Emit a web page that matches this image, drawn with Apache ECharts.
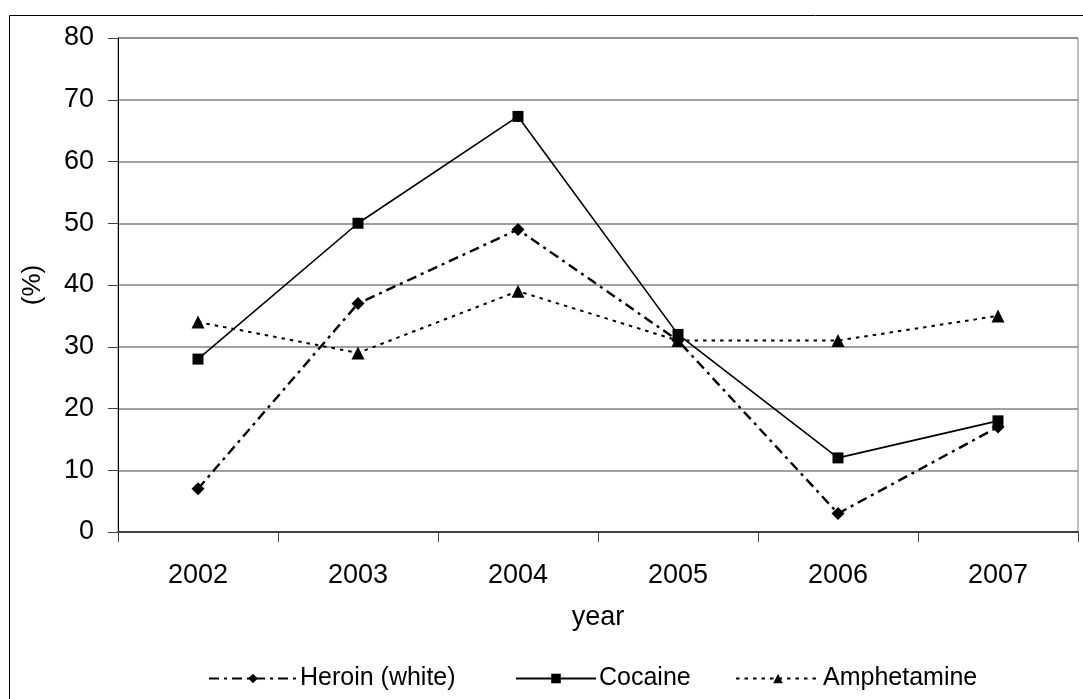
<!DOCTYPE html>
<html>
<head>
<meta charset="utf-8">
<style>
html,body{margin:0;padding:0;background:#fff;}
#chart{width:1083px;height:699px;}
</style>
<script src="https://cdn.jsdelivr.net/npm/echarts@6/dist/echarts.min.js"></script>
</head>
<body>
<div id="chart"></div>
<script>
const years = ['2002','2003','2004','2005','2006','2007'];
const heroin = [7, 37, 49, 31, 3, 17];
const cocaine = [28, 50, 67.3, 32, 12, 18];
const amphetamine = [34, 29, 39, 31, 31, 35];
const seriesNames = ['Heroin (white)', 'Cocaine', 'Amphetamine'];

const FONT = '"Liberation Sans", Arial, sans-serif';
const chart = echarts.init(document.getElementById('chart'), null, {renderer: 'canvas'});

function legendFor(name, left, w) {
  return {
    data: [name],
    left: left,
    top: 666,
    itemWidth: w,
    itemHeight: 12,
    itemGap: 0,
    padding: 0,
    textStyle: {fontFamily: FONT, fontSize: 25, color: '#000', padding: [0,0,0,-2]},
    selectedMode: false
  };
}

chart.setOption({
  animation: false,
  backgroundColor: '#fff',
  textStyle: {fontFamily: FONT},
  graphic: [{
    type: 'rect',
    shape: {x: 9.5, y: 15.5, width: 1120, height: 720},
    style: {fill: 'none', stroke: '#000', lineWidth: 1},
    silent: true, z: -1
  }],
  grid: {
    left: 118, right: 5, top: 38, bottom: 167,
    show: true, borderColor: '#808080', borderWidth: 1, backgroundColor: 'transparent'
  },
  legend: [
    legendFor(seriesNames[0], 208, 88),
    legendFor(seriesNames[1], 515, 80),
    legendFor(seriesNames[2], 735, 84)
  ],
  xAxis: {
    type: 'category',
    data: years,
    boundaryGap: true,
    name: 'year',
    nameLocation: 'middle',
    nameGap: 72,
    nameTextStyle: {fontFamily: FONT, fontSize: 27, color: '#000'},
    axisLine: {lineStyle: {color: '#404040', width: 2}},
    axisTick: {show: true, inside: false, length: 10, alignWithLabel: false, lineStyle: {color: '#404040', width: 1}},
    axisLabel: {fontFamily: FONT, fontSize: 27, color: '#000', margin: 30},
    splitLine: {show: false}
  },
  yAxis: {
    type: 'value',
    min: 0, max: 80, interval: 10,
    name: '(%)',
    nameLocation: 'middle',
    nameRotate: 90,
    nameGap: 72,
    nameTextStyle: {fontFamily: FONT, fontSize: 26, color: '#000'},
    axisLine: {show: true, lineStyle: {color: '#000', width: 1}},
    axisTick: {show: true, inside: false, length: 10, lineStyle: {color: '#404040', width: 1}},
    axisLabel: {fontFamily: FONT, fontSize: 27, color: '#000', margin: 24},
    splitLine: {show: true, lineStyle: {color: '#808080', width: 1.5}}
  },
  series: [
    {
      name: seriesNames[0], type: 'line', data: heroin,
      symbol: 'diamond', symbolSize: 13, showSymbol: true,
      itemStyle: {color: '#000'},
      lineStyle: {color: '#000', width: 2.4, type: [10, 5, 3, 5]},
      z: 3
    },
    {
      name: seriesNames[1], type: 'line', data: cocaine,
      symbol: 'rect', symbolSize: 11, showSymbol: true,
      itemStyle: {color: '#000'},
      lineStyle: {color: '#000', width: 1.6, type: 'solid'},
      z: 4
    },
    {
      name: seriesNames[2], type: 'line', data: amphetamine,
      symbol: 'triangle', symbolSize: 13, showSymbol: true,
      itemStyle: {color: '#000'},
      lineStyle: {color: '#000', width: 2, type: [3.5, 5]},
      z: 2
    }
  ]
});
</script>
</body>
</html>
